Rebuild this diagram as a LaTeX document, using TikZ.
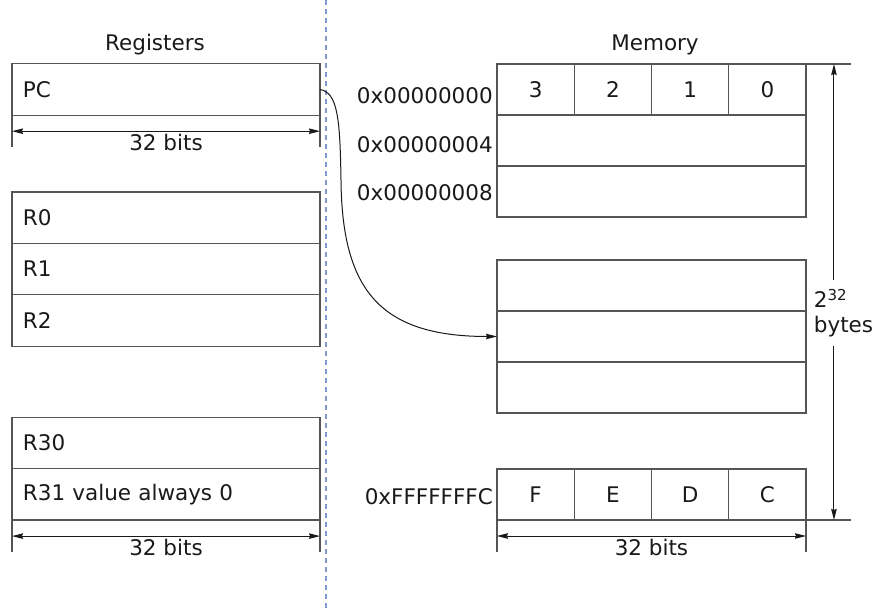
\documentclass[tikz,border=0pt]{standalone}
\usepackage{fontspec}
\setmainfont{DejaVu Sans}
\usetikzlibrary{arrows.meta,calc}
\definecolor{divcol}{RGB}{128,152,206}
\definecolor{edge}{RGB}{85,85,85}
\definecolor{ink}{RGB}{25,25,25}
\begin{document}
\begin{tikzpicture}[x=1pt,y=-1pt,
  every node/.style={text=ink,font=\fontsize{21.5}{25}\selectfont},
  regbox/.style={draw=edge,line width=1.3pt,rectangle,minimum height=51.4pt,
    text width=286pt,inner xsep=11pt,inner ysep=0pt,outer sep=0pt,align=left},
  memrow/.style={draw=edge,line width=1.3pt,rectangle,minimum height=51pt,
    minimum width=309pt,inner sep=0pt,outer sep=0pt},
  memcell/.style={draw=edge,line width=1.3pt,rectangle,minimum height=51pt,
    minimum width=77.25pt,inner sep=0pt,outer sep=0pt},
  addr/.style={anchor=east,inner sep=0pt},
  tick/.style={draw=edge,line width=1.3pt},
  dimline/.style={draw=ink,line width=1pt,
    {Stealth[length=11pt,width=5.5pt,inset=1pt]}-{Stealth[length=11pt,width=5.5pt,inset=1pt]}},
  onearrow/.style={draw=ink,line width=1pt,-{Stealth[length=11pt,width=5.5pt,inset=1pt]}},
  dimtext/.style={anchor=north,inner sep=3pt}]
\useasboundingbox (0,0) rectangle (876,609);

% divider between register file and memory
\draw[divcol,line width=1.8pt,dash pattern=on 5pt off 4pt] (326,0) -- (326,609);

% headings
\node[anchor=base] (hreg) at (155,51) {Registers};
\node[anchor=base] (hmem) at (655,51) {Memory};

% ---------- registers ----------
\node[regbox] (pc) at (166,89.5) {PC};
\draw[tick] (pc.south west) -- ++(0,32);
\draw[tick] (pc.south east) -- ++(0,32);
\draw[dimline] ($(pc.south west)+(0,16)$) coordinate (pcl) -- ($(pc.south east)+(0,16)$) coordinate (pcr);
\node[dimtext] (pcbits) at ($(pcl)!0.5!(pcr)$) {32 bits};

\node[regbox] (r0) at (166,217.7) {R0};
\node[regbox,anchor=north] (r1) at (r0.south) {R1};
\node[regbox,anchor=north] (r2) at (r1.south) {R2};

\node[regbox] (r30) at (166,443) {R30};
\node[regbox,anchor=north] (r31) at (r30.south) {R31 value always 0};
\draw[tick] (r31.south west) -- ++(0,32);
\draw[tick] (r31.south east) -- ++(0,32);
\draw[dimline] ($(r31.south west)+(0,16)$) coordinate (rl) -- ($(r31.south east)+(0,16)$) coordinate (rr);
\node[dimtext] (rbits) at ($(rl)!0.5!(rr)$) {32 bits};

% ---------- memory ----------
\node[memcell] (b3) at (535.6,89.5) {3};
\node[memcell,anchor=west] (b2) at (b3.east) {2};
\node[memcell,anchor=west] (b1) at (b2.east) {1};
\node[memcell,anchor=west] (b0) at (b1.east) {0};
\node[memrow,anchor=north west] (m1) at (b3.south west) {};
\node[memrow,anchor=north] (m2) at (m1.south) {};

\node[memrow] (m4) at (651.5,285.5) {};
\node[memrow,anchor=north] (m5) at (m4.south) {};
\node[memrow,anchor=north] (m6) at (m5.south) {};

\node[memcell] (bf) at (535.6,494.5) {F};
\node[memcell,anchor=west] (be) at (bf.east) {E};
\node[memcell,anchor=west] (bd) at (be.east) {D};
\node[memcell,anchor=west] (bc) at (bd.east) {C};

\node[addr] (a0) at (493,96) {0x00000000};
\node[addr] (a4) at (493,145) {0x00000004};
\node[addr] (a8) at (493,193) {0x00000008};
\node[addr] (af) at (493,497) {0xFFFFFFFC};

% word width
\draw[tick] (bf.south west) -- ++(0,32);
\draw[tick] (bc.south east) -- ++(0,32);
\draw[dimline] ($(bf.south west)+(0,16)$) coordinate (ml) -- ($(bc.south east)+(0,16)$) coordinate (mr);
\node[dimtext] (mbits) at ($(ml)!0.5!(mr)$) {32 bits};

% total size of the address space
\draw[tick] (b0.north east) -- ++(45,0);
\draw[tick] (bc.south east) -- ++(45,0);
\coordinate (stop) at ($(b0.north east)+(28,0)$);
\coordinate (sbot) at ($(bc.south east)+(28,0)$);
\node[align=left,inner xsep=0pt,inner ysep=9pt] (size) at (843.5,313) {2\textsuperscript{32}\\bytes};
\draw[onearrow] (stop |- size.north) -- (stop);
\draw[onearrow] (sbot |- size.south) -- (sbot);

% the program counter points into memory
\coordinate (bend) at (341,180);
\draw[onearrow] (pc.east) .. controls +(18,3) and +(-1,-60) .. (bend)
  .. controls +(1,110) and +(-117,0) .. (m5.west);
\end{tikzpicture}
\end{document}
